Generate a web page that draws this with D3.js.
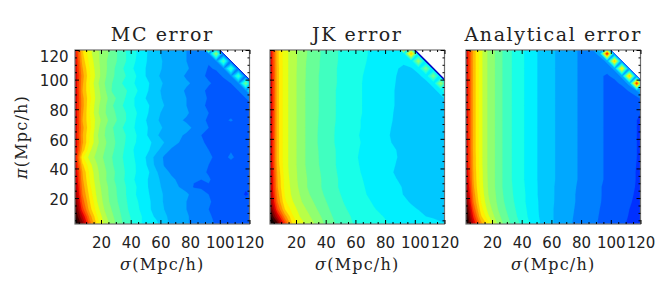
<!DOCTYPE html>
<html><head><meta charset="utf-8">
<script src="https://cdn.jsdelivr.net/npm/d3@7"></script>
<style>html,body{margin:0;padding:0;background:#fff}svg{display:block}</style></head>
<body><svg id="c" width="660" height="300"></svg>
<script>
const titles = ["MC error", "JK error", "Analytical error"];
const sigmaTicks = [20, 40, 60, 80, 100, 120];
const piTicks = [20, 40, 60, 80, 100, 120];
const minorTicks = [5,10,15,25,30,35,45,50,55,65,70,75,85,90,95,105,110,115];
const levels = [0.05,0.5,1,2,3,4,5,6,7,8,9,10,11,12,13,14,15,16,17,18,19,20,21];
const levelColors = ["#0000c0","#0030ff","#0058ff","#0080ff","#00a8ff","#00c8ff","#00f0ff","#18ffe8","#40ffc0","#68ff98","#90ff70","#b8ff48","#e8ff10","#fff000","#ffc000","#ff9000","#ff6000","#ff3000","#e00000","#b00000","#800000","#400000","#100000"];
const _ = null; // no measurement beyond the sigma + pi = 220 edge
// rows run from pi=122.5 (top) to pi=2.5 (bottom); columns from sigma=2.5 to 122.5 in steps of 5
const mcErr = [
[17.5,13.2,11.2,10.1,9.3,8.5,7.6,6.8,6.1,5.5,4.9,4.3,3.9,3.6,3.3,3.0,2.7,2.4,20,1.5,_,_,_,_,_],
[17.6,13.2,11.3,10.2,9.4,8.6,7.7,6.9,6.2,5.5,4.8,4.2,3.8,3.5,3.2,3.0,2.6,2.3,2.9,10,1.5,_,_,_,_],
[17.8,13.6,11.6,10.3,9.2,8.5,7.7,6.9,6.1,5.4,4.8,4.3,3.9,3.6,3.3,3.0,2.7,2.3,2.1,2.9,8,1.5,_,_,_],
[17.9,14.1,11.9,10.4,9.3,8.3,7.4,6.6,5.9,5.3,4.7,4.2,3.9,3.7,3.4,3.1,2.8,2.4,1.9,2.1,2.8,7.5,1.5,_,_],
[18.1,14.4,12.1,10.5,9.2,8.2,7.5,6.9,6.2,5.4,4.6,4.1,3.8,3.5,3.2,2.9,2.6,2.2,1.8,1.7,2.1,2.9,7.5,1.5,_],
[18.0,14.2,11.8,10.2,9.0,8.0,7.2,6.6,6.0,5.5,5.0,4.4,3.9,3.6,3.3,3.1,2.9,2.5,2.1,1.8,1.7,2.0,2.8,9,1.5],
[18.2,14.0,12.0,10.4,9.2,7.9,7.5,7.0,6.3,5.6,4.9,4.2,3.8,3.5,3.2,2.9,2.6,2.2,1.8,1.5,1.6,1.7,2.0,2.8,10],
[18.1,14.3,12.2,10.5,9.4,8.4,7.6,6.8,6.0,5.3,4.7,4.2,3.9,3.6,3.3,3.0,2.7,2.3,1.9,1.6,1.5,1.4,1.6,2.0,2.9],
[17.9,14.4,12.0,10.3,9.2,8.1,7.3,6.6,6.0,5.5,5.0,4.4,4.0,3.7,3.4,3.0,2.6,2.2,1.8,1.5,1.4,1.5,1.4,1.5,1.9],
[18.0,14.2,11.9,10.2,9.1,8.3,7.6,6.9,6.2,5.6,4.9,4.2,3.8,3.5,3.3,3.1,2.8,2.4,2.0,1.7,1.6,1.7,1.5,1.5,1.5],
[18.2,14.0,12.1,10.5,9.4,8.5,7.7,6.9,6.1,5.4,4.7,4.1,3.7,3.4,3.1,2.9,2.7,2.3,1.8,1.6,1.8,2.1,1.7,1.4,1.4],
[18.0,14.3,12.2,10.3,9.1,8.1,7.3,6.6,6.0,5.4,4.9,4.3,3.9,3.6,3.4,3.2,2.9,2.5,2.0,1.6,1.4,1.5,1.6,1.5,1.5],
[17.8,14.1,11.9,10.1,9.0,8.2,7.5,6.9,6.2,5.5,4.8,4.1,3.6,3.3,3.1,2.9,2.6,2.0,1.5,1.2,1.0,1.4,1.7,1.5,1.4],
[18.1,14.2,11.8,10.2,9.2,8.3,7.6,6.8,6.1,5.6,5.2,4.5,4.0,3.3,3.0,2.8,2.6,2.2,1.7,1.3,1.5,1.6,1.4,1.6,1.5],
[18.0,13.6,11.2,9.9,9.0,8.2,7.4,6.7,5.9,5.5,5.0,4.3,3.3,2.9,2.8,2.7,2.5,2.3,2.0,1.8,1.7,1.9,1.6,1.4,1.4],
[17.6,12.2,10.6,9.6,8.8,8.0,7.3,6.6,6.0,5.4,4.6,3.5,2.9,2.8,2.7,2.6,2.5,2.4,2.1,1.9,1.7,2.2,1.7,1.5,1.5],
[18.0,13.2,11.3,10.0,9.0,8.1,7.4,6.7,6.1,5.5,4.7,3.6,2.95,2.8,2.7,2.5,2.4,2.2,2.0,1.7,1.5,1.6,1.4,1.3,1.4],
[18.3,14.0,11.7,10.2,9.2,8.3,7.5,6.8,6.1,5.6,5.0,4.1,3.2,2.9,2.7,2.6,2.4,2.2,1.9,1.6,1.5,1.4,1.4,1.5,1.5],
[18.6,14.2,11.9,10.3,9.2,8.2,7.5,6.7,6.0,5.4,4.9,4.3,3.5,3.1,2.9,2.5,2.1,2.0,2.1,1.7,1.5,1.5,1.5,1.4,1.4],
[19.0,14.6,12.2,10.5,9.4,8.5,7.6,6.9,6.2,5.5,4.9,4.4,3.7,3.3,3.0,2.8,1.9,1.8,1.9,1.7,1.5,1.4,1.4,1.1,1.3],
[19.4,15.0,12.6,10.7,9.5,8.5,7.7,6.9,6.1,5.6,5.0,4.5,3.9,3.5,3.3,3.1,2.8,2.5,2.0,1.7,1.5,1.5,1.3,0.9,1.2],
[20.0,15.6,13.0,11.0,9.6,8.6,7.8,7.0,6.3,5.7,5.1,4.5,3.9,3.5,3.2,3.0,2.8,2.5,2.1,1.8,1.6,1.5,1.6,1.4,1.4],
[20.6,16.4,13.4,11.4,9.9,8.9,8.0,7.1,6.4,5.8,5.1,4.6,4.0,3.6,3.3,3.0,2.7,2.5,2.0,1.8,1.6,1.5,1.5,1.4,1.4],
[21.2,18.0,14.5,12.0,10.3,9.2,8.2,7.3,6.6,6.0,5.3,4.8,4.2,3.7,3.4,3.1,2.8,2.5,2.2,1.7,1.7,1.5,1.4,2.0,1.5],
[22.0,19.5,15.5,12.6,10.7,9.5,8.4,7.5,6.7,6.0,5.5,5.2,4.3,3.8,3.4,3.1,2.8,2.6,2.3,1.9,1.7,1.5,1.6,1.4,1.6]
];
const jkErr = [
[18,13.3,11.4,10.5,9.7,9,8.4,7.9,7.4,7.05,6.75,6.45,6.25,6.05,5.75,5.55,5.35,5.4,20,4.5,_,_,_,_,_],
[18,13.3,11.4,10.5,9.7,9,8.4,7.9,7.4,7.05,6.75,6.45,6.25,6.05,5.75,5.55,5.3,5.2,5.4,14,4.5,_,_,_,_],
[18.1,13.3,11.4,10.5,9.7,8.9,8.35,7.85,7.4,7.05,6.7,6.45,6.2,6,5.75,5.5,5.25,5.1,5.05,5.3,10,4.5,_,_,_],
[18.2,13.4,11.4,10.5,9.65,8.85,8.3,7.85,7.35,7,6.7,6.4,6.15,5.95,5.7,5.45,5.2,5.02,4.95,4.95,5.2,9,4.5,_,_],
[18.3,13.4,11.4,10.5,9.6,8.85,8.25,7.8,7.35,7,6.65,6.35,6.1,5.9,5.65,5.45,5.2,5,4.9,4.85,4.9,5.2,9,4.5,_],
[18.4,13.4,11.4,10.5,9.6,8.8,8.25,7.8,7.3,7,6.65,6.35,6.1,5.85,5.6,5.4,5.15,4.98,4.85,4.75,4.75,4.85,5.2,10,4.5],
[18.4,13.4,11.4,10.5,9.6,8.8,8.25,7.8,7.3,6.95,6.65,6.35,6.1,5.85,5.6,5.4,5.15,4.95,4.8,4.7,4.65,4.7,4.85,5.2,10],
[18.5,13.4,11.4,10.5,9.6,8.8,8.25,7.8,7.3,6.95,6.65,6.35,6.1,5.85,5.6,5.4,5.15,4.95,4.8,4.7,4.6,4.55,4.7,4.85,5.2],
[18.5,13.4,11.4,10.5,9.6,8.8,8.25,7.8,7.3,6.95,6.65,6.35,6.1,5.85,5.6,5.4,5.15,4.95,4.8,4.7,4.6,4.55,4.5,4.7,4.9],
[18.5,13.4,11.4,10.5,9.6,8.8,8.25,7.8,7.3,6.95,6.65,6.35,6.1,5.85,5.6,5.4,5.12,4.92,4.8,4.7,4.6,4.55,4.5,4.5,4.6],
[18.5,13.4,11.4,10.5,9.6,8.8,8.25,7.75,7.25,6.95,6.65,6.35,6.05,5.8,5.6,5.35,5.1,4.9,4.78,4.7,4.6,4.55,4.5,4.5,4.5],
[18.5,13.4,11.4,10.5,9.6,8.8,8.2,7.75,7.25,6.9,6.6,6.3,6.05,5.8,5.55,5.3,5.05,4.88,4.75,4.68,4.6,4.55,4.5,4.5,4.5],
[18.5,13.4,11.4,10.5,9.6,8.8,8.2,7.7,7.2,6.9,6.6,6.3,6.0,5.75,5.5,5.25,5.02,4.85,4.75,4.68,4.6,4.55,4.5,4.5,4.5],
[18.5,13.4,11.4,10.5,9.6,8.8,8.2,7.7,7.2,6.9,6.6,6.3,6.05,5.8,5.55,5.3,5.05,4.9,4.75,4.68,4.6,4.55,4.5,4.5,4.5],
[18.5,13.4,11.4,10.5,9.6,8.8,8.25,7.75,7.25,6.95,6.6,6.3,6.0,5.75,5.55,5.35,5.15,5.0,4.85,4.72,4.62,4.55,4.5,4.5,4.5],
[18.5,13.4,11.4,10.5,9.6,8.8,8.25,7.8,7.3,6.95,6.6,6.25,5.95,5.75,5.55,5.35,5.15,5.02,4.88,4.75,4.65,4.55,4.5,4.5,4.5],
[18.6,13.5,11.4,10.5,9.6,8.8,8.3,7.8,7.3,6.95,6.65,6.35,6.0,5.8,5.55,5.35,5.15,4.98,4.82,4.72,4.62,4.55,4.5,4.5,4.5],
[18.7,13.8,11.5,10.5,9.7,8.9,8.35,7.9,7.4,7.0,6.7,6.4,6.05,5.8,5.6,5.4,5.15,4.9,4.75,4.68,4.6,4.55,4.5,4.5,4.5],
[18.8,14.0,11.6,10.6,9.7,9,8.45,7.95,7.45,7.05,6.75,6.4,6.1,5.9,5.65,5.45,5.2,5.02,4.85,4.72,4.65,4.58,4.55,4.55,4.55],
[18.8,14.1,11.7,10.7,9.8,9,8.5,7.95,7.5,7.05,6.75,6.4,6.15,5.95,5.7,5.5,5.25,5.05,4.98,4.78,4.7,4.65,4.62,4.6,4.6],
[19,14.5,11.9,10.8,10,9.2,8.6,8.1,7.6,7.15,6.85,6.5,6.25,6,5.8,5.55,5.35,5.15,4.98,4.85,4.75,4.7,4.68,4.65,4.65],
[19.5,15,12.2,11.1,10.2,9.5,8.9,8.3,7.8,7.3,6.95,6.65,6.4,6.15,5.9,5.7,5.5,5.3,5.1,4.95,4.85,4.8,4.8,4.8,4.8],
[20.5,16,13,11.6,10.6,9.9,9.2,8.6,8,7.5,7.1,6.8,6.55,6.3,6.05,5.85,5.65,5.45,5.25,5.1,4.98,4.9,4.85,4.85,4.85],
[21.5,18,14.5,12.2,11,10.3,9.6,8.9,8.2,7.7,7.3,6.95,6.7,6.45,6.25,6.05,5.85,5.65,5.5,5.3,5.15,5,4.95,4.9,4.9],
[22,20.5,16.5,13,11.5,10.8,10,9.2,8.4,7.9,7.5,7.05,6.8,6.6,6.4,6.2,6,5.85,5.7,5.55,5.4,5.25,5.15,5.05,5]
];
const anErr = [
[18,13.7,11.3,9.8,8.9,7.9,7.1,6.5,5.9,5.3,4.8,4.4,4.0,3.7,3.3,3.0,2.75,3.3,7,1.8,_,_,_,_,_],
[18,13.7,11.3,9.8,8.9,7.9,7.1,6.5,5.9,5.3,4.8,4.4,4.0,3.7,3.3,3.0,2.7,2.5,3.4,17.5,1.8,_,_,_,_],
[18,13.7,11.3,9.8,8.9,7.9,7.1,6.5,5.9,5.3,4.8,4.4,4.0,3.7,3.3,3.0,2.7,2.4,2.3,3.3,14,1.8,_,_,_],
[18,13.7,11.3,9.8,8.9,7.9,7.1,6.5,5.9,5.3,4.8,4.4,4.0,3.7,3.3,3.0,2.7,2.4,2.1,2.25,3.3,13,1.8,_,_],
[18,13.7,11.3,9.8,8.9,7.9,7.1,6.5,5.9,5.3,4.8,4.4,4.0,3.7,3.3,3.0,2.7,2.4,2.1,1.9,2.2,3.3,14,1.8,_],
[18,13.7,11.3,9.8,8.9,7.9,7.1,6.5,5.9,5.3,4.8,4.4,4.0,3.7,3.3,3.0,2.7,2.4,2.1,1.9,1.75,2.2,3.4,17,1.8],
[18,13.7,11.3,9.8,8.9,7.9,7.1,6.5,5.9,5.3,4.8,4.4,4.0,3.7,3.3,3.0,2.7,2.4,2.1,1.9,1.7,1.55,2.1,3.0,6],
[18,13.7,11.3,9.8,8.9,7.9,7.1,6.5,5.9,5.3,4.8,4.4,4.0,3.7,3.3,3.0,2.7,2.4,2.1,1.9,1.7,1.5,1.3,1.7,2.5],
[18,13.7,11.3,9.8,8.9,7.9,7.1,6.5,5.9,5.3,4.8,4.4,4.0,3.7,3.3,3.0,2.7,2.4,2.1,1.9,1.7,1.5,1.2,1.15,1.5],
[18,13.7,11.3,9.8,8.9,7.9,7.1,6.5,5.9,5.3,4.8,4.4,4.0,3.7,3.3,3.0,2.7,2.4,2.1,1.9,1.7,1.5,1.2,1.05,0.95],
[18,13.7,11.3,9.8,8.9,7.9,7.1,6.5,5.9,5.3,4.8,4.4,4.0,3.7,3.3,3.0,2.7,2.4,2.1,1.9,1.7,1.5,1.2,1.0,0.9],
[18,13.7,11.3,9.8,8.9,7.9,7.1,6.5,5.9,5.3,4.8,4.4,4.0,3.7,3.3,3.0,2.7,2.4,2.1,1.9,1.7,1.5,1.2,1.0,0.9],
[18,13.7,11.3,9.8,8.9,7.9,7.1,6.5,5.9,5.3,4.8,4.4,4.0,3.7,3.3,3.0,2.7,2.4,2.1,1.9,1.7,1.5,1.2,1.0,0.9],
[18,13.7,11.3,9.8,8.9,7.9,7.1,6.5,5.9,5.3,4.8,4.4,4.0,3.7,3.3,3.0,2.7,2.4,2.1,1.9,1.7,1.5,1.2,1.0,0.9],
[18,13.7,11.3,9.8,8.9,7.9,7.1,6.5,5.9,5.3,4.8,4.4,4.0,3.7,3.3,3.0,2.7,2.4,2.1,1.9,1.7,1.5,1.2,1.0,0.9],
[18,13.8,11.3,9.8,8.9,7.9,7.1,6.5,5.9,5.3,4.8,4.4,4.0,3.7,3.3,3.0,2.7,2.4,2.1,1.9,1.7,1.5,1.2,1.0,0.9],
[18.1,13.8,11.3,9.8,8.9,7.9,7.1,6.5,5.9,5.3,4.8,4.4,4.0,3.7,3.3,3.0,2.7,2.4,2.1,1.9,1.7,1.5,1.2,0.98,0.88],
[18.3,13.9,11.4,9.8,8.9,7.9,7.1,6.5,5.9,5.3,4.8,4.4,4.0,3.65,3.3,3.0,2.65,2.4,2.1,1.9,1.7,1.45,1.15,0.97,0.87],
[18.5,14,11.4,9.85,8.9,7.9,7.1,6.5,5.9,5.3,4.8,4.4,4,3.65,3.3,3,2.65,2.4,2.1,1.9,1.7,1.45,1.15,0.97,0.87],
[19,14.2,11.5,9.9,8.9,7.9,7.15,6.55,5.95,5.35,4.8,4.4,3.95,3.65,3.25,2.95,2.65,2.35,2.05,1.85,1.65,1.45,1.15,0.95,0.85],
[19.5,14.6,11.7,10,9,8,7.2,6.6,6,5.35,4.8,4.4,3.95,3.6,3.25,2.9,2.6,2.35,2.05,1.85,1.6,1.4,1.1,0.92,0.82],
[20,15,12,10.2,9.1,8.1,7.3,6.65,6,5.4,4.85,4.35,3.95,3.6,3.25,2.9,2.6,2.35,2.05,1.8,1.55,1.35,1.05,0.9,0.8],
[21,15.8,12.5,10.6,9.3,8.3,7.5,6.75,6.1,5.45,4.85,4.35,3.9,3.55,3.2,2.85,2.55,2.3,2,1.75,1.5,1.3,1,0.88,0.78],
[21.5,16.8,13.2,11.2,9.7,8.6,7.7,6.9,6.2,5.5,4.9,4.35,3.9,3.5,3.15,2.8,2.5,2.25,1.95,1.7,1.45,1.2,0.95,0.85,0.75],
[22,18,14.5,12.5,10.3,9,8,7.2,6.4,5.7,5,4.4,3.9,3.5,3.1,2.75,2.45,2.2,1.9,1.6,1.35,1.1,0.9,0.8,0.7]
];
const panelValues = [mcErr, jkErr, anErr];
const edgeStroke = ["#0020d8", "#0000c0", "none"];
const edgeWidth = [0.9, 1.5, 0];
const panelLeft = [75, 270, 466];
const panelWidth = 174.5, plotTop = 50, plotBottom = 224;

const svg = d3.select("#c");
const defs = svg.append("defs");
const serif = "'DejaVu Serif', serif";
const sans = "'DejaVu Sans', sans-serif";

panelValues.forEach((rows, p) => {
  const x0 = panelLeft[p], x1 = x0 + panelWidth;
  const x = d3.scaleLinear().domain([2.5, 120]).range([x0, x1]);
  const y = d3.scaleLinear().domain([2.5, 120]).range([plotBottom, plotTop]);
  const nx = rows[0].length, ny = rows.length;
  const grid = rows.flat();
  const contours = d3.contours().size([nx, ny]).smooth(true).thresholds(levels)(grid);
  const path = d3.geoPath(d3.geoTransform({
    point(c, r) { this.stream.point(x(5 * c), y(125 - 5 * r)); }
  }));
  defs.append("clipPath").attr("id", "clip" + p).append("rect")
    .attr("x", x0).attr("y", plotTop).attr("width", x1 - x0).attr("height", plotBottom - plotTop);
  const g = svg.append("g").attr("clip-path", `url(#clip${p})`);
  g.selectAll("path.band").data(contours).join("path").attr("class", "band")
    .attr("d", path)
    .attr("fill", (d, i) => levelColors[i])
    .attr("stroke", (d, i) => levelColors[i])
    .attr("stroke-width", 0.2);
  g.append("path").datum(contours[0]).attr("d", path)
    .attr("fill", "none").attr("stroke", edgeStroke[p]).attr("stroke-width", edgeWidth[p]);

  svg.append("rect").attr("x", x0).attr("y", plotTop).attr("width", x1 - x0).attr("height", plotBottom - plotTop)
    .attr("fill", "none").attr("stroke", "#707070").attr("stroke-width", 1.2);

  const styleTicks = s => { s.select(".domain").remove(); s.selectAll("line").attr("stroke", "#000").attr("stroke-width", 1); };
  const addAxis = (make, scale, tr, vals, len, fmt, pad) => {
    const a = svg.append("g").attr("transform", tr)
      .call(make(scale).tickValues(vals).tickSize(-len).tickPadding(pad || 0).tickFormat(fmt || (() => "")));
    a.call(styleTicks);
    a.selectAll("text").attr("font-family", sans).attr("font-size", 15).attr("fill", "#222");
    return a;
  };
  addAxis(d3.axisBottom, x, `translate(0,${plotBottom})`, sigmaTicks, 4, d => d, 13.6);
  addAxis(d3.axisTop, x, `translate(0,${plotTop})`, sigmaTicks, 4);
  addAxis(d3.axisBottom, x, `translate(0,${plotBottom})`, minorTicks, 2);
  addAxis(d3.axisTop, x, `translate(0,${plotTop})`, minorTicks, 2);
  const la = addAxis(d3.axisLeft, y, `translate(${x0},0)`, piTicks, 4, p === 0 ? (d => d) : null, 6.5);
  if (p === 0) la.selectAll("text").attr("dy", d => d === 120 ? "0.75em" : "0.42em");
  addAxis(d3.axisRight, y, `translate(${x1},0)`, piTicks, 4);
  addAxis(d3.axisLeft, y, `translate(${x0},0)`, minorTicks, 2);
  addAxis(d3.axisRight, y, `translate(${x1},0)`, minorTicks, 2);

  svg.append("text").attr("x", (x0 + x1) / 2).attr("y", 41).attr("text-anchor", "middle")
    .attr("font-family", serif).attr("font-size", 19).attr("letter-spacing", 1.6).attr("fill", "#222")
    .text(titles[p]);
  const xt = svg.append("text").attr("x", (x0 + x1) / 2).attr("y", 270).attr("text-anchor", "middle")
    .attr("font-family", serif).attr("font-size", 16).attr("letter-spacing", 1.2).attr("fill", "#222");
  xt.append("tspan").attr("font-style", "italic").text("σ");
  xt.append("tspan").text("(Mpc/h)");
  if (p === 0) {
    const yt = svg.append("text").attr("transform", "translate(27,137) rotate(-90)").attr("text-anchor", "middle")
      .attr("font-family", serif).attr("font-size", 16).attr("letter-spacing", 1.2).attr("fill", "#222");
    yt.append("tspan").attr("font-style", "italic").text("π");
    yt.append("tspan").text("(Mpc/h)");
  }
});
</script></body></html>
